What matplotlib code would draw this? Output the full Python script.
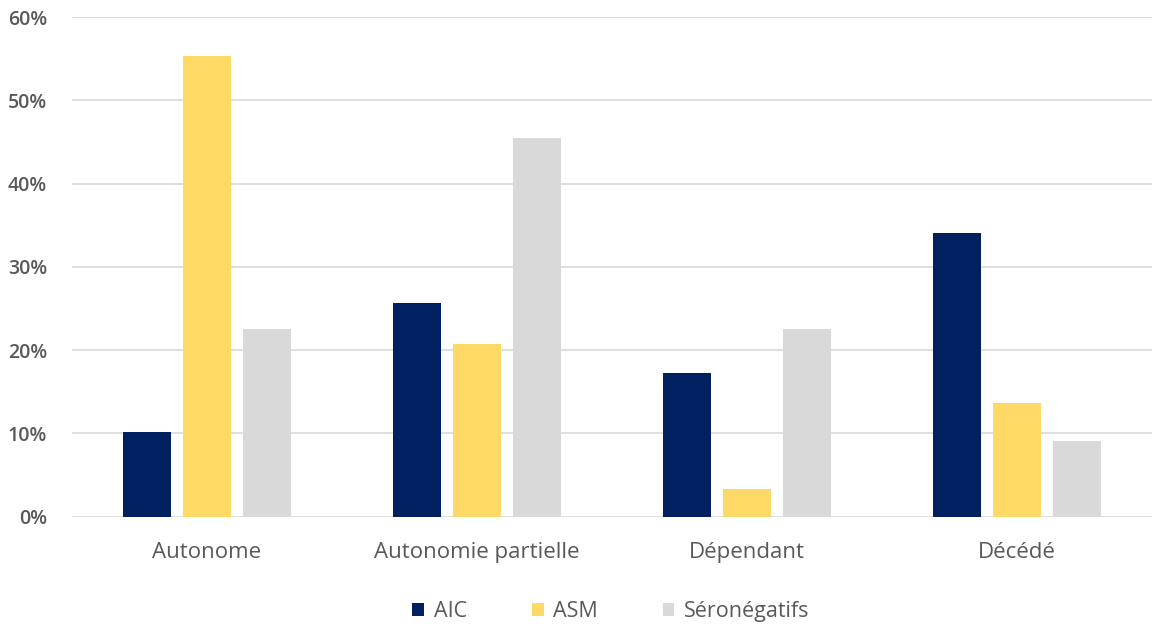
import numpy as np
import matplotlib.pyplot as plt
from matplotlib.ticker import PercentFormatter

plt.rcParams['font.family'] = ['Open Sans', 'DejaVu Sans']

categories = ['Autonome', 'Autonomie partielle', 'Dépendant', 'Décédé']
series_names = ['AIC', 'ASM', 'Séronégatifs']
aic = [10.2, 25.7, 17.3, 34.1]
asm = [55.3, 20.7, 3.3, 13.6]
seroneg = [22.5, 45.5, 22.5, 9.1]
colors = ['#002060', '#FFD966', '#D9D9D9']

fig = plt.figure(figsize=(11.55, 6.3), dpi=100)
ax = fig.add_axes([0.0623, 0.180, 0.935, 0.793])

x = np.arange(len(categories))
width = 0.178
step = 0.222
for i, (vals, name, col) in enumerate(zip([aic, asm, seroneg], series_names, colors)):
    ax.bar(x + (i - 1) * step, vals, width, color=col, label=name, zorder=3)

ax.set_xlim(-0.5, len(categories) - 0.5)
ax.set_ylim(0, 60)
ax.set_yticks(np.arange(0, 61, 10))
ax.yaxis.set_major_formatter(PercentFormatter(decimals=0))
ax.grid(axis='y', color='#D9D9D9', linewidth=1.2, zorder=0)
for s in ax.spines.values():
    s.set_visible(False)
ax.tick_params(axis='both', length=0, colors='#595959')
ax.tick_params(axis='y', pad=18, labelsize=14)
ax.tick_params(axis='x', pad=18, labelsize=16)
ax.set_xticks(x)
ax.set_xticklabels(categories)
for lbl in ax.get_yticklabels():
    lbl.set_fontweight('semibold')

fig.legend(loc='lower center', bbox_to_anchor=(0.529, -0.018), ncol=3, frameon=False,
           fontsize=15.5, handlelength=0.55, handleheight=0.55, columnspacing=3.0,
           handletextpad=0.45, labelcolor='#595959')

fig.savefig('out.png', dpi=100)
